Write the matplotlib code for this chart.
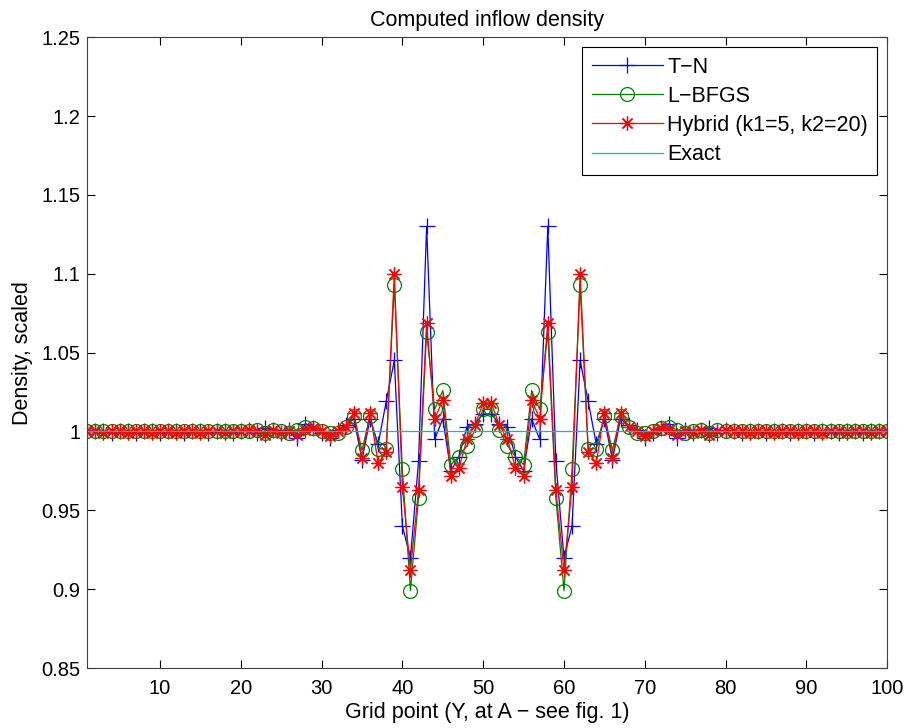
import numpy as np
import matplotlib
matplotlib.use('Agg')
import matplotlib.pyplot as plt

plt.rcParams['font.family'] = ['Liberation Sans', 'DejaVu Sans']

# grid points 1..100
grid = np.arange(1, 101)

tn = [1.001, 1.000, 1.000, 0.999, 1.000, 1.000, 0.999, 1.000, 1.000, 0.999,
      1.000, 1.000, 0.999, 1.000, 1.000, 0.999, 1.000, 1.000, 0.999, 1.000,
      1.001, 0.999, 1.002, 1.001, 0.999, 1.001, 0.996, 1.005, 1.002, 0.999,
      0.996, 1.001, 1.004, 1.008, 0.982, 1.008, 0.992, 1.019, 1.045, 0.940,
      0.920, 0.981, 1.130, 0.995, 1.008, 0.975, 0.984, 1.003, 1.005, 1.011,
      1.011, 1.005, 1.003, 0.984, 0.975, 1.008, 0.995, 1.130, 0.981, 0.920,
      0.940, 1.045, 1.019, 0.992, 1.008, 0.982, 1.008, 1.004, 1.001, 0.996,
      0.999, 1.002, 1.005, 0.996, 1.001, 0.999, 1.001, 1.002, 0.999, 1.001,
      1.000, 0.999, 1.000, 1.000, 0.999, 1.000, 1.000, 0.999, 1.000, 1.000,
      0.999, 1.000, 1.000, 0.999, 1.000, 1.000, 0.999, 1.000, 1.000, 1.001]

lbfgs = [1.000, 1.000, 1.000, 1.000, 1.000, 1.000, 1.000, 1.000, 1.000, 1.000,
         1.000, 1.000, 1.000, 1.000, 1.000, 1.000, 1.000, 1.000, 1.000, 1.000,
         1.000, 1.001, 0.999, 1.001, 1.000, 0.999, 1.001, 1.003, 1.002, 1.000,
         0.999, 0.999, 1.003, 1.010, 0.988, 1.010, 0.989, 0.989, 1.093, 0.976,
         0.899, 0.958, 1.063, 1.014, 1.026, 0.979, 0.984, 0.991, 1.001, 1.014,
         1.014, 1.001, 0.991, 0.984, 0.979, 1.026, 1.014, 1.063, 0.958, 0.899,
         0.976, 1.093, 0.989, 0.989, 1.010, 0.988, 1.010, 1.003, 0.999, 0.999,
         1.000, 1.002, 1.003, 1.001, 0.999, 1.000, 1.001, 0.999, 1.001, 1.000,
         1.000, 1.000, 1.000, 1.000, 1.000, 1.000, 1.000, 1.000, 1.000, 1.000,
         1.000, 1.000, 1.000, 1.000, 1.000, 1.000, 1.000, 1.000, 1.000, 1.000]

hybrid = [1.000, 1.000, 0.999, 1.000, 1.000, 0.999, 1.000, 1.000, 0.999, 1.000,
          1.000, 0.999, 1.000, 1.000, 0.999, 1.000, 1.000, 0.999, 1.000, 1.000,
          1.001, 1.000, 0.998, 1.001, 0.999, 1.000, 0.998, 1.001, 1.002, 1.000,
          0.997, 1.000, 1.003, 1.012, 0.983, 1.012, 0.980, 0.987, 1.100, 0.965,
          0.912, 0.963, 1.069, 1.008, 1.020, 0.972, 0.977, 0.995, 1.004, 1.018,
          1.018, 1.004, 0.995, 0.977, 0.972, 1.020, 1.008, 1.069, 0.963, 0.912,
          0.965, 1.100, 0.987, 0.980, 1.012, 0.983, 1.012, 1.003, 1.000, 0.997,
          1.000, 1.002, 1.001, 0.998, 1.000, 0.999, 1.001, 0.998, 1.000, 1.001,
          1.000, 1.000, 0.999, 1.000, 1.000, 0.999, 1.000, 1.000, 0.999, 1.000,
          1.000, 0.999, 1.000, 1.000, 0.999, 1.000, 1.000, 0.999, 1.000, 1.000]

exact = [1.0] * 100

xticks = [10, 20, 30, 40, 50, 60, 70, 80, 90, 100]
yticks = [0.85, 0.9, 0.95, 1.0, 1.05, 1.1, 1.15, 1.2, 1.25]
ytick_labels = ['0.85', '0.9', '0.95', '1', '1.05', '1.1', '1.15', '1.2', '1.25']

fig = plt.figure(figsize=(9.11, 7.28), dpi=100)
ax = fig.add_axes([0.0958, 0.0824, 0.878, 0.8665])

# matlab style '*' marker: 8 spokes
asterisk = (8, 2, 0)

ax.plot(grid, tn, color='#0000ff', lw=0.9, marker='+', ms=11, mew=0.9, label='T\u2212N')
ax.plot(grid, lbfgs, color='#008000', lw=0.9, marker='o', ms=10, mfc='none', mew=0.9, label='L\u2212BFGS')
ax.plot(grid, hybrid, color='#ff0000', lw=0.9, marker=asterisk, ms=10, mew=0.9, label='Hybrid (k1=5, k2=20)')
ax.plot(grid, exact, color='#00bfbf', lw=0.9, label='Exact')

ax.set_xlim(1, 100)
ax.set_ylim(0.85, 1.25)
ax.set_xticks(xticks)
ax.set_yticks(yticks)
ax.set_yticklabels(ytick_labels)
ax.tick_params(direction='in', top=True, right=True, length=6, width=0.8, labelsize=14.5)
ax.tick_params(axis='x', pad=8)
ax.tick_params(axis='y', pad=5)
for s in ax.spines.values():
    s.set_linewidth(0.8)
    s.set_color('#404040')

ax.set_title('Computed inflow density', fontsize=15.5, pad=8)
ax.set_xlabel('Grid point (Y, at A \u2212 see fig. 1)', fontsize=15.5, labelpad=3)
ax.set_ylabel('Density, scaled', fontsize=15.5, labelpad=6)

leg = ax.legend(loc='upper right', fontsize=15.5, fancybox=False, edgecolor='black',
                framealpha=1, borderaxespad=0.45, handlelength=3.3, borderpad=0.45,
                labelspacing=0.38, handletextpad=0.2)
leg.get_frame().set_linewidth(0.8)

fig.savefig('out.png', dpi=100)
